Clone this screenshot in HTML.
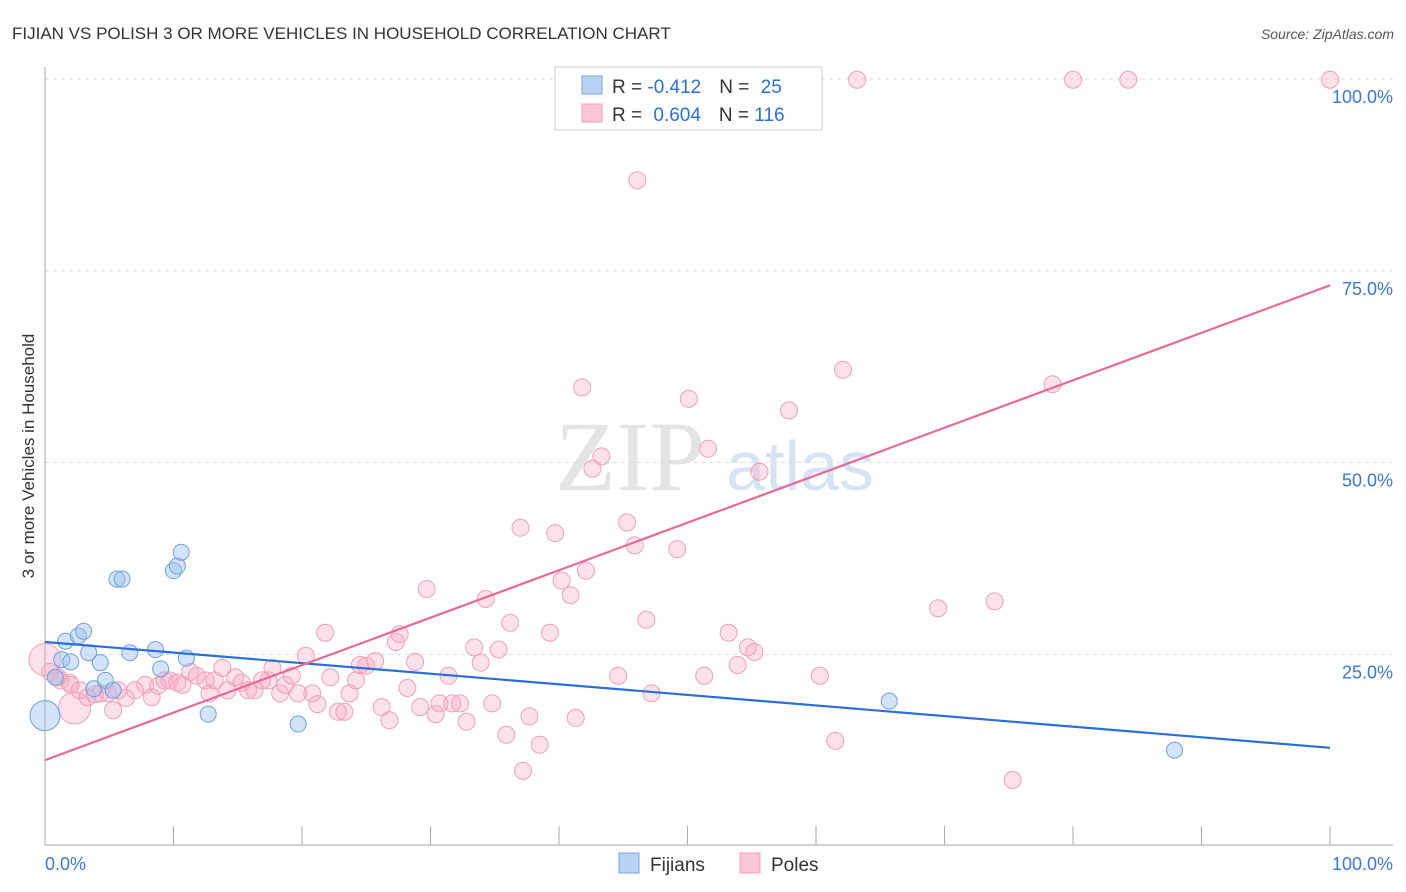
<!DOCTYPE html>
<html><head><meta charset="utf-8"><style>
body{margin:0;background:#fff;font-family:"Liberation Sans",sans-serif;}
svg{display:block}
</style></head><body>
<svg id="chart" width="1406" height="892">
<text x="12" y="39" font-size="17" fill="#333">FIJIAN VS POLISH 3 OR MORE VEHICLES IN HOUSEHOLD CORRELATION CHART</text>
<text x="1394" y="39" font-size="14" fill="#555" font-style="italic" text-anchor="end">Source: ZipAtlas.com</text>
<text transform="translate(34,456) rotate(-90)" font-size="17" fill="#333" text-anchor="middle">3 or more Vehicles in Household</text>
<text x="630" y="490" font-size="100" fill="#e4e4e4" font-family="Liberation Serif,serif" text-anchor="middle">ZIP</text>
<text x="800" y="490" font-size="70" fill="#d6e3f4" text-anchor="middle">atlas</text>
<g id="grid"></g><g id="pts"></g><g id="lines"></g>
<g>
<rect x="555" y="67" width="267" height="63" fill="#fff" stroke="#ccc"/>
<rect x="582" y="76" width="20" height="18" fill="#b9d3f5" stroke="#7aa6e0"/>
<rect x="582" y="104" width="20" height="18" fill="#fbc6d6" stroke="#f2a0b9"/>
<text x="612" y="93" font-size="19" fill="#333">R = <tspan fill="#2f6fd1">-0.412</tspan><tspan dx="18">N = </tspan><tspan fill="#2f6fd1" dx="6">25</tspan></text>
<text x="612" y="121" font-size="19" fill="#333">R = <tspan fill="#2f6fd1" dx="6">0.604</tspan><tspan dx="18">N = </tspan><tspan fill="#2f6fd1">116</tspan></text>
</g>
<g>
<rect x="619" y="853" width="20" height="20" fill="#b9d3f5" stroke="#7aa6e0"/>
<text x="650" y="871" font-size="19" fill="#333">Fijians</text>
<rect x="740" y="853" width="20" height="20" fill="#fbc6d6" stroke="#f2a0b9"/>
<text x="771" y="871" font-size="19" fill="#333">Poles</text>
</g>
</svg>
<script>
const yTicks=[25,50,75,100];
const yTickLabels=["25.0%","50.0%","75.0%","100.0%"];
const xTicks=[0,10,20,30,40,50,60,70,80,90,100];
const fijX=[0,0.8,1.3,1.6,2.0,2.6,3.0,3.4,3.8,4.3,4.7,5.3,5.6,6.0,6.6,8.6,9.0,10,10.3,10.6,11,12.7,19.7,65.7,87.9];
const fijY=[17,22,24.3,26.7,24,27.4,28,25.2,20.5,23.9,21.6,20.3,34.8,34.8,25.2,25.6,23.1,35.9,36.5,38.3,24.5,17.2,15.9,18.9,12.5];
const fijR=[15,8,8,8,8,8,8,8,8,8,8,8,8,8,8,8,8,8,8,8,8,8,8,8,8];
const polX=[0,0.4,1.2,1.9,2.3,2.7,3.3,3.9,4.3,4.9,5.3,5.7,6.3,7.0,7.8,8.3,8.8,9.3,9.7,10.3,10.7,11.3,11.8,12.5,12.8,13.2,13.8,14.2,14.8,15.3,15.8,16.3,16.9,17.4,17.7,18.3,18.7,19.2,19.7,20.3,20.8,21.2,21.8,22.2,22.8,23.3,23.7,24.2,24.5,25.0,25.7,26.2,26.8,27.3,27.6,28.2,28.8,29.2,29.7,30.4,30.7,31.4,31.7,32.3,32.8,33.4,33.9,34.3,34.8,35.3,35.9,36.2,37.0,37.2,37.7,38.5,39.3,39.7,40.2,40.9,41.3,41.8,42.1,42.6,43.3,44.6,45.3,45.9,46.1,46.8,47.2,49.2,50.1,51.3,51.6,53.2,53.9,54.7,55.2,55.6,57.9,60.3,61.5,62.1,63.2,69.5,73.9,75.3,78.4,80,84.3,100,49.9,54.5,1.0,2.0];
const polY=[24.3,22.7,21.6,21.3,18,20.3,19.4,19.8,19.9,19.9,17.7,20.3,19.3,20.3,21,19.4,20.9,21.6,21.6,21.3,21,22.7,22.2,21.6,19.9,21.6,23.2,20.3,22,21.3,20.3,20.3,21.6,21.6,23.2,19.9,21,22.2,19.9,24.8,19.9,18.5,27.8,22,17.5,17.5,19.9,21.6,23.6,23.5,24.1,18.1,16.4,26.6,27.6,20.6,24,18.1,33.5,17.2,18.6,22.2,18.6,18.6,16.2,25.9,23.9,32.2,18.6,25.6,14.5,29.1,41.5,9.8,16.9,13.2,27.8,40.8,34.6,32.7,16.7,59.8,35.9,49.2,50.8,22.2,42.2,39.2,86.8,29.5,19.9,38.7,58.3,22.2,51.8,27.8,23.6,25.9,25.3,48.8,56.8,22.2,13.7,62.1,99.9,31,31.9,8.6,60.2,99.9,99.9,99.9,99.9,99.9,22,21];
const fijTrend=[26.6,12.8];
const polTrend=[11.2,73.1];
const X0=45,X1=1330,Y0=846,Y100=79;
const sx=v=>X0+(X1-X0)*v/100, sy=v=>Y0-(Y0-Y100)*v/100;
const NS="http://www.w3.org/2000/svg";
function mk(tag,attrs,parent){const e=document.createElementNS(NS,tag);for(const k in attrs)e.setAttribute(k,attrs[k]);parent.appendChild(e);return e;}
const grid=document.getElementById('grid');
yTicks.forEach((t,i)=>{
 const l=mk('line',{x1:45,x2:1393,y1:sy(t),y2:sy(t),stroke:'#ddd','stroke-dasharray':'4,4'},grid);
 
 
 const tx=mk('text',{x:1393,y:sy(t)+24,'font-size':18,fill:'#3a78d4','text-anchor':'end'},grid);
 tx.textContent=yTickLabels[i];
 
 
});
const ax=mk('line',{x1:45,x2:1393,y1:845,y2:845,stroke:'#aaa'},grid);


const ay=mk('line',{x1:45,x2:45,y1:67,y2:845,stroke:'#aaa'},grid);


xTicks.forEach(t=>{const l=mk('line',{x1:sx(t),x2:sx(t),y1:826,y2:845,stroke:'#aaa'},grid);
 
 });
const xl0=mk('text',{x:45,y:870,'font-size':18,fill:'#3a78d4'},grid);xl0.textContent='0.0%';


const xl1=mk('text',{x:1393,y:870,'font-size':18,fill:'#3a78d4','text-anchor':'end'},grid);xl1.textContent='100.0%';


const pts=document.getElementById('pts');
polX.forEach((x,i)=>{const c=mk('circle',{cx:sx(x),cy:sy(polY[i]),r:(x===0||(x===2.3&&polY[i]===18))?16:8.5,fill:'rgba(248,170,195,0.35)',stroke:'#f0a0b8','stroke-width':1},pts);
 
 });
fijX.forEach((x,i)=>{const c=mk('circle',{cx:sx(x),cy:sy(fijY[i]),r:fijR[i],fill:'rgba(160,195,240,0.45)',stroke:'#6f9fe0','stroke-width':1},pts);
 
 });
const lines=document.getElementById('lines');
const fl=mk('line',{x1:sx(0),x2:sx(100),y1:sy(fijTrend[0]),y2:sy(fijTrend[1]),stroke:'#2b6fd6','stroke-width':2.2},lines);


const pl=mk('line',{x1:sx(0),x2:sx(100),y1:sy(polTrend[0]),y2:sy(polTrend[1]),stroke:'#e8689a','stroke-width':2.2},lines);


</script>
</body></html>
